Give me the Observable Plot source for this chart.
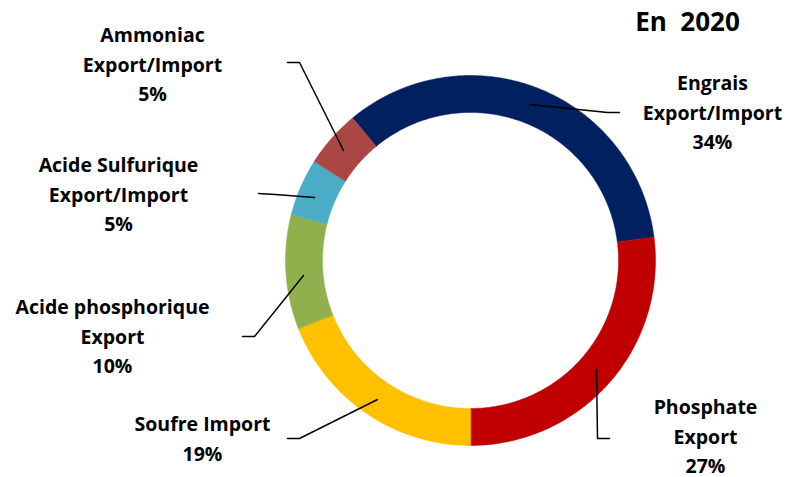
<!DOCTYPE html>
<html>
<head>
<meta charset="utf-8">
<script src="https://cdn.jsdelivr.net/npm/d3@7"></script>
<script src="https://cdn.jsdelivr.net/npm/@observablehq/plot@0.6"></script>
<style>
  html, body { margin: 0; padding: 0; background: #fff; }
  #chart { width: 794px; height: 477px; }
</style>
</head>
<body>
<div id="chart"></div>
<script>
// ---- data ----
const categories = [
  "Engrais\nExport/Import",
  "Phosphate\nExport",
  "Soufre Import",
  "Acide phosphorique\nExport",
  "Acide Sulfurique\nExport/Import",
  "Ammoniac\nExport/Import"
];
const shares = [34, 27, 19, 10, 5, 5];
const colors = ["#002060", "#C00000", "#FFC000", "#8FB04C", "#4BACC6", "#AA4643"];
const title = "En  2020";

// ---- layout (pixels) ----
const W = 794, H = 477;
const cx = 470, cy = 260, rOuter = 185, rInner = 148;
const startDeg = -39.6;
const labelPos = [ // label block centre x, centre y
  [712, 110], [705, 434], [202, 436], [112, 334], [118, 192], [152, 62]
];
const leaders = [
  [[530, 104], [607, 112], [619, 112]],
  [[596, 369], [597, 438], [609, 438]],
  [[377, 399], [299, 438], [287, 438]],
  [[303, 275], [254, 336], [242, 336]],
  [[314, 197], [275, 194], [258, 193]],
  [[343, 150], [299, 62], [287, 62]]
];

const pie = d3.pie().sort(null).value(d => d)
  .startAngle(startDeg * Math.PI / 180)
  .endAngle(startDeg * Math.PI / 180 + 2 * Math.PI);
const arcs = pie(shares);

const polys = [];
arcs.forEach((a, i) => {
  const n = Math.max(8, Math.ceil((a.endAngle - a.startAngle) / 0.01));
  for (let k = 0; k <= n; k++) {
    const t = a.startAngle + (a.endAngle - a.startAngle) * k / n;
    polys.push({i, x: cx + rOuter * Math.sin(t), y: cy - rOuter * Math.cos(t)});
  }
  for (let k = n; k >= 0; k--) {
    const t = a.startAngle + (a.endAngle - a.startAngle) * k / n;
    polys.push({i, x: cx + rInner * Math.sin(t), y: cy - rInner * Math.cos(t)});
  }
});

const leaderPts = leaders.flatMap((pts, i) => pts.map(([x, y]) => ({i, x, y})));
const labels = categories.map((c, i) => ({
  text: c + "\n" + shares[i] + "%",
  x: labelPos[i][0], y: labelPos[i][1]
}));

const chart = Plot.plot({
  width: W, height: H,
  margin: 0,
  x: {domain: [0, W], range: [0, W], axis: null},
  y: {domain: [0, H], range: [0, H], axis: null},
  style: {fontFamily: "'Open Sans', Lato, sans-serif", background: "white"},
  marks: [
    Plot.line(polys, {
      x: "x", y: "y", z: "i",
      fill: d => colors[d.i], stroke: d => colors[d.i], strokeWidth: 0.5,
      curve: "linear-closed"
    }),
    Plot.line(leaderPts, {x: "x", y: "y", z: "i", stroke: "black", strokeWidth: 1.5}),
    Plot.text(labels, {
      x: "x", y: "y", text: "text",
      fontSize: 19.5, fontWeight: "bold", fill: "black",
      lineAnchor: "middle", lineHeight: 1.51, textAnchor: "middle"
    }),
    Plot.text([title], {
      x: () => 687, y: () => 22, text: d => d,
      fontSize: 26, fontWeight: "bold", fill: "black", lineAnchor: "middle"
    })
  ]
});
document.getElementById("chart").appendChild(chart);
</script>
</body>
</html>
